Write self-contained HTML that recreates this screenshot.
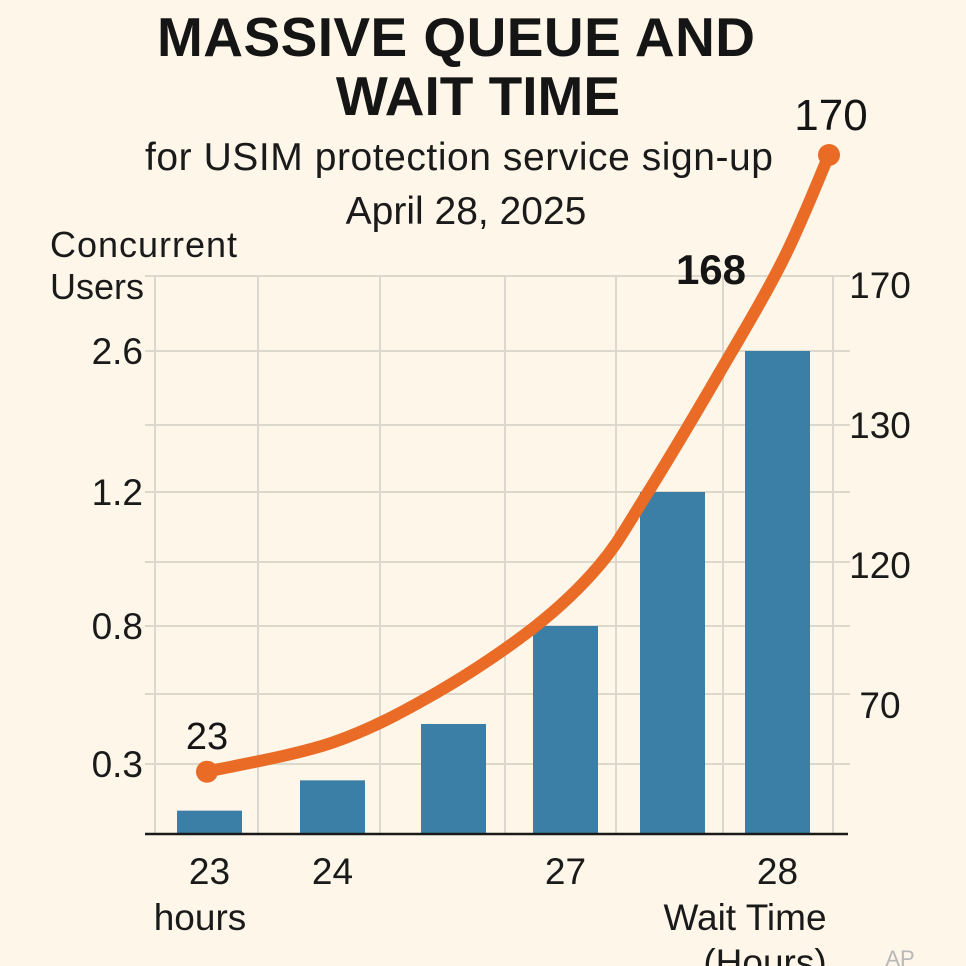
<!DOCTYPE html>
<html><head><meta charset="utf-8"><style>
html,body{margin:0;padding:0;background:#fdf6e9;}
svg{display:block;font-family:"Liberation Sans","DejaVu Sans",sans-serif;}
</style></head><body>
<svg id="chart" width="966" height="966" viewBox="0 0 966 966">
<rect width="966" height="966" fill="#fdf6e9"/>
<text x="456" y="56" text-anchor="middle" font-size="55" font-weight="bold" fill="#151515" textLength="598">MASSIVE QUEUE AND</text>
<text x="478" y="115" text-anchor="middle" font-size="55" font-weight="bold" fill="#151515">WAIT TIME</text>
<text x="459" y="170" text-anchor="middle" font-size="39" fill="#1a1a1a" textLength="628">for USIM protection service sign-up</text>
<text x="466" y="224" text-anchor="middle" font-size="39" fill="#1a1a1a">April 28, 2025</text>
<text x="50" y="257" font-size="36" fill="#1a1a1a" textLength="187">Concurrent</text>
<text x="50" y="299" font-size="36" fill="#1a1a1a">Users</text>
<g id="grid"></g>
<g id="bars"></g>
<g id="axes"></g>
<g id="line"></g>
<text x="200" y="930" text-anchor="middle" font-size="37" fill="#1a1a1a">hours</text>
<text x="745" y="930" text-anchor="middle" font-size="37" fill="#1a1a1a">Wait Time</text>
<text x="765" y="975" text-anchor="middle" font-size="37" fill="#1a1a1a">(Hours)</text>
<text x="900" y="966" text-anchor="middle" font-size="22" fill="#b8b8b8">AP</text>
</svg>
<script>
const leftTicks=[0,0.3,0.8,1.2,2.6];
const leftTickLabels=["","0.3","0.8","1.2","2.6"];
const rightTicks=[70,120,130,170];
const barValues=[0.1,0.23,0.445,0.8,1.2,2.6];
const xLabels=["23","24","","27","","28"];
const lineProgress=[0,20.3,37.1,52.7,63,70.4,82.2,92.6,100];
const lineValues=[8.9,13.1,20.3,29.6,38.3,48.1,65.6,82,97];
const lineLabels=["23","168","170"];

const NS="http://www.w3.org/2000/svg";
const base=834;
const leftPix=[834,764,626,492,351];
const barSlots=[177,300,421,533,640,745];
function yLeft(v){for(let i=0;i<leftTicks.length-1;i++){if(v<=leftTicks[i+1]||i==leftTicks.length-2){const t=(v-leftTicks[i])/(leftTicks[i+1]-leftTicks[i]);return leftPix[i]+t*(leftPix[i+1]-leftPix[i]);}}}
function yRight(i){return 285+i*140;}
function yLine(v){return 834-v*7;}
function xBar(i){return barSlots[i];}
const bw=65;
function xLine(u){return 207+u*6.22;}
function mk(tag,a,p){const e=document.createElementNS(NS,tag);for(const k in a)e.setAttribute(k,a[k]);p.appendChild(e);return e;}
const grid=document.getElementById('grid');
[155,258,380,505,616,723,833].forEach(x=>{const l=mk('line',{x1:x,x2:x,y1:276,y2:834,stroke:'#dcd8cd','stroke-width':2},grid);

});
[276,351,425,492,562,626,694,764].forEach(y=>{const l=mk('line',{x1:145,x2:850,y1:y,y2:y,stroke:'#dcd8cd','stroke-width':2},grid);

});
const bars=document.getElementById('bars');
barValues.forEach((v,i)=>{const y=yLeft(v);const r=mk('rect',{x:xBar(i),y:y,width:bw,height:base-y,fill:'#3b7fa6'},bars);


if(xLabels[i]){const t=mk('text',{x:xBar(i)+bw/2,y:884,'text-anchor':'middle','font-size':37,fill:'#1a1a1a'},bars);t.textContent=xLabels[i];

}});
const axes=document.getElementById('axes');
const bl=mk('line',{x1:145,x2:848,y1:base,y2:base,stroke:'#1a1a1a','stroke-width':2.5},axes);


leftTicks.forEach((v,i)=>{if(!leftTickLabels[i])return;const t=mk('text',{x:143,y:yLeft(v)+13,'text-anchor':'end','font-size':37,fill:'#1a1a1a'},axes);t.textContent=leftTickLabels[i];

});
rightTicks.slice().reverse().forEach((v,i)=>{const t=mk('text',{x:880,y:yRight(i)+13,'text-anchor':'middle','font-size':37,fill:'#1a1a1a'},axes);t.textContent=String(v);

});
const lg=document.getElementById('line');
const pts=lineValues.map((v,i)=>[xLine(lineProgress[i]),yLine(v)]);
let d='M'+pts[0][0]+','+pts[0][1];
for(let i=0;i<pts.length-1;i++){const p0=pts[Math.max(0,i-1)],p1=pts[i],p2=pts[i+1],p3=pts[Math.min(pts.length-1,i+2)];
d+=' C'+(p1[0]+(p2[0]-p0[0])/6)+','+(p1[1]+(p2[1]-p0[1])/6)+' '+(p2[0]-(p3[0]-p1[0])/6)+','+(p2[1]-(p3[1]-p1[1])/6)+' '+p2[0]+','+p2[1];}
const path=mk('path',{d:d,fill:'none',stroke:'#e96b25','stroke-width':12,'stroke-linecap':'round'},lg);


[0,pts.length-1].forEach(i=>{const c=mk('circle',{cx:pts[i][0],cy:pts[i][1],r:11,fill:'#e96b25'},lg);

});
const lp=[[207,749,38,'normal'],[711,284,42,'bold'],[831,130,44,'normal']];
lineLabels.forEach((s,i)=>{const t=mk('text',{x:lp[i][0],y:lp[i][1],'text-anchor':'middle','font-size':lp[i][2],'font-weight':lp[i][3],fill:'#151515'},lg);t.textContent=s;

});
</script>
</body></html>
